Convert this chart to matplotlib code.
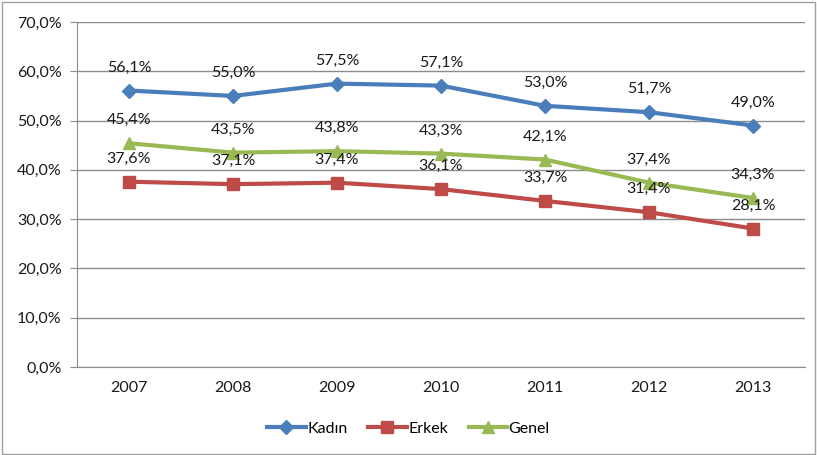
import matplotlib.pyplot as plt
import numpy as np
from matplotlib.patches import Rectangle

years = ["2007", "2008", "2009", "2010", "2011", "2012", "2013"]
kadin = [56.1, 55.0, 57.5, 57.1, 53.0, 51.7, 49.0]
erkek = [37.6, 37.1, 37.4, 36.1, 33.7, 31.4, 28.1]
genel = [45.4, 43.5, 43.8, 43.3, 42.1, 37.4, 34.3]

plt.rcParams['font.family'] = ['Lato', 'DejaVu Sans']
plt.rcParams['font.size'] = 11.5

fig = plt.figure(figsize=(8.17, 4.55), dpi=100)
ax = fig.add_axes([0.0942, 0.1934, 0.8911, 0.7582])
fig.patches.append(Rectangle((0.002, 0.002), 0.996, 0.994, transform=fig.transFigure,
                             fill=False, edgecolor='#a0a0a0', lw=1))

x = np.arange(len(years))
series = [
    ("Kadın", kadin, '#4A7EBB', 'D', 7),
    ("Erkek", erkek, '#BE4B48', 's', 8),
    ("Genel", genel, '#98B954', '^', 8),
]
for name, vals, col, mk, ms in series:
    ax.plot(x, vals, color=col, lw=3, marker=mk, markersize=ms, label=name, zorder=3)
    for xi, v in zip(x, vals):
        ax.annotate(f"{v:.1f}%".replace('.', ','), (xi, v), xytext=(0, 23),
                    textcoords='offset pixels', ha='center', va='center',
                    color='#1a1a1a', zorder=4)

ax.set_xlim(-0.5, len(years) - 0.5)
ax.set_ylim(0, 70)
ax.set_xticks(x)
ax.set_xticklabels(years)
ax.set_yticks(np.arange(0, 71, 10))
ax.set_yticklabels([f"{v:.1f}%".replace('.', ',') for v in np.arange(0, 71, 10)])
ax.yaxis.grid(True, color='#8c8c8c', lw=1)
ax.set_axisbelow(True)
for s in ['top', 'right']:
    ax.spines[s].set_visible(False)
for s in ['left', 'bottom']:
    ax.spines[s].set_color('#8c8c8c')
ax.tick_params(axis='y', length=5, color='#8c8c8c', colors='#1a1a1a', pad=6)
ax.tick_params(axis='x', length=0, colors='#1a1a1a', pad=10)

fig.legend(loc='center', bbox_to_anchor=(0.5, 0.058), ncol=3, frameon=False,
           handlelength=2.4, columnspacing=1.3, handletextpad=0.1)

fig.savefig("out.png", dpi=100)
